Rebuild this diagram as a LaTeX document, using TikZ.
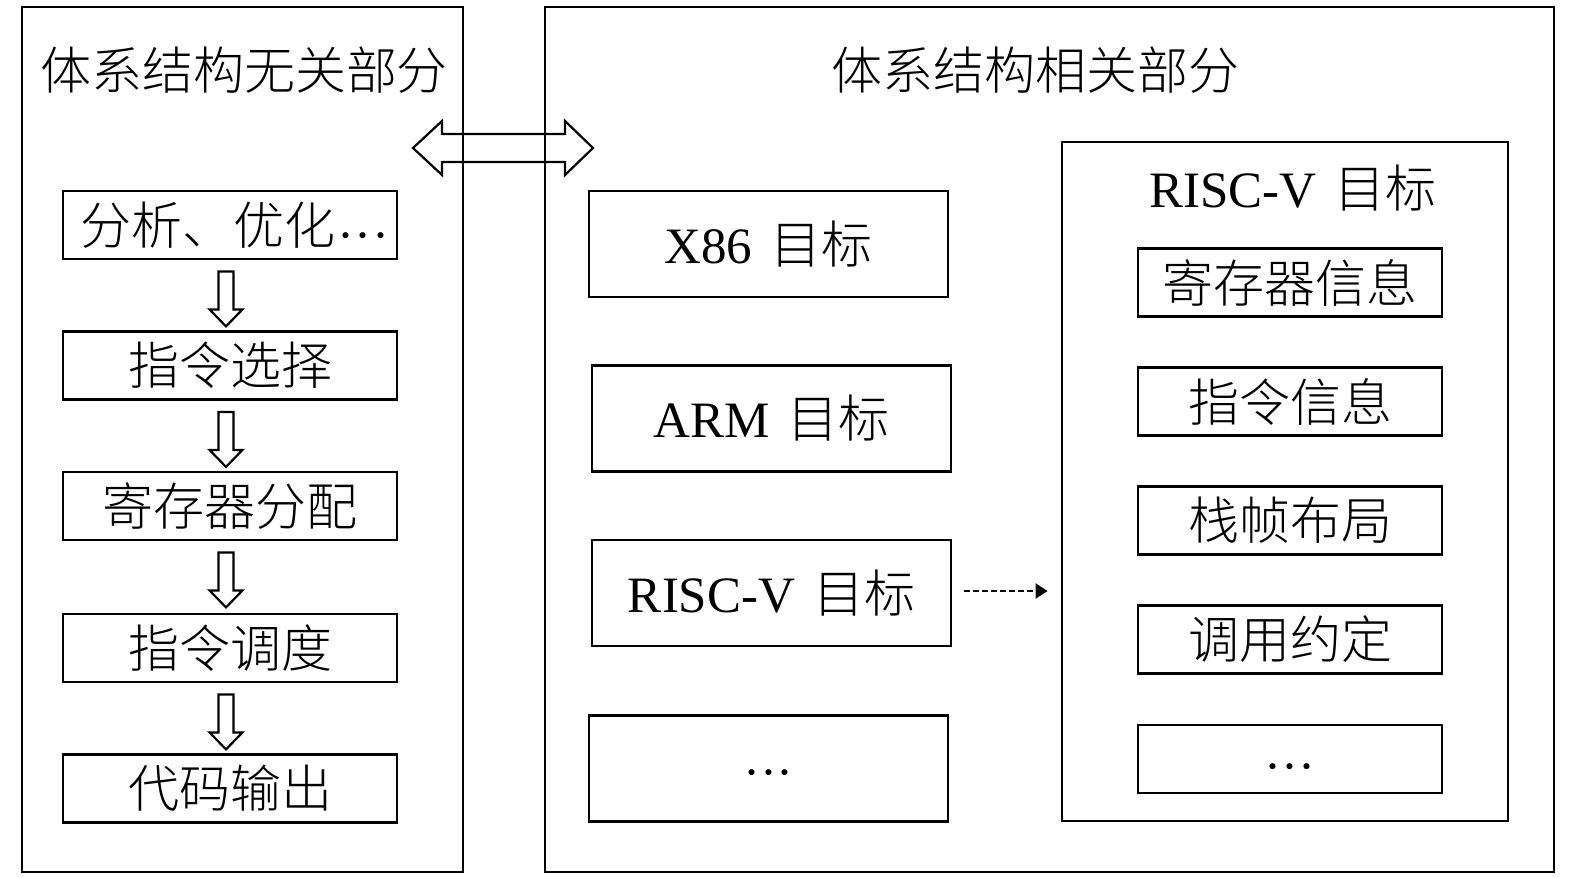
\documentclass[tikz,border=0pt]{standalone}
\usepackage{fontspec}
\setmainfont{Liberation Serif}
\newfontfamily\cjk{Noto Sans CJK SC Light}
\newcommand\zh[1]{{\cjk #1}}
\usetikzlibrary{arrows.meta,calc}
\begin{document}
\begin{tikzpicture}[x=0.5pt,y=-0.5pt,
  frame/.style={draw=black, line width=1.4pt, inner sep=0pt},
  txt/.style={inner sep=0pt, font=\fontsize{25.5}{30}\selectfont},
  lbox/.style={frame, font=\fontsize{25.5}{30}\selectfont, minimum width=167pt, minimum height=34pt},
  tbox/.style={frame, font=\fontsize{25.5}{30}\selectfont, minimum width=179.5pt, minimum height=53pt},
  ibox/.style={frame, font=\fontsize{25.5}{30}\selectfont, minimum width=152pt, minimum height=34pt},
  hollow/.style={draw=black, line width=1.1pt, line join=miter},
  dasharrow/.style={draw=black, line width=1pt, dash pattern=on 3pt off 1.5pt, -{Triangle[length=6pt,width=7.5pt]}},
]
\useasboundingbox (0,0) rectangle (1575,878);

% outer frames
\node[frame, minimum width=220.5pt, minimum height=432.5pt] (left) at (242.5,439.5) {};
\node[frame, minimum width=504.5pt, minimum height=432.5pt] (right) at (1049.5,439.5) {};
\node[txt] (lt) at (244,70) {\zh{体系结构无关部分}};
\node[txt] (rt) at (1035,70) {\zh{体系结构相关部分}};

% double arrow
\draw[hollow] (413,148) -- (442,121) -- (442,134) -- (565,134) -- (565,121) -- (593,148)
  -- (565,175) -- (565,162) -- (442,162) -- (442,175) -- cycle;

% left column
\node[lbox] (a1) at (230,225) {\hspace*{5pt}\zh{分析、优化}\hspace{1pt}\raisebox{-4pt}[0pt][0pt]{·\hspace{0.5pt}·\hspace{0.5pt}·}};
\node[lbox] (a2) at (230,365.5) {\zh{指令选择}};
\node[lbox] (a3) at (230,506) {\zh{寄存器分配}};
\node[lbox] (a4) at (230,648) {\zh{指令调度}};
\node[lbox] (a5) at (230,788.5) {\zh{代码输出}};

\foreach \p/\q in {a1/a2,a2/a3,a3/a4,a4/a5}{
  \draw[hollow] ($(\p.south)+(-4,11)$) ++(-7.5,0) -- ++(0,38) -- ++(-9,0) -- ++(16.5,17)
    -- ++(16.5,-17) -- ++(-9,0) -- ++(0,-38) -- cycle;
}

% targets
\node[tbox] (x86) at (768.5,244) {X86\hspace{0.35em}\zh{目标}};
\node[tbox] (arm) at (771.5,418.5) {ARM\hspace{0.35em}\zh{目标}};
\node[tbox] (rv) at (771.5,593) {RISC-V\hspace{0.35em}\zh{目标}};
\node[tbox] (etc) at (768.5,768.5) {\raisebox{-10.5pt}[0pt][0pt]{···}};

% RISC-V detail
\node[frame, minimum width=223pt, minimum height=339.5pt] (rvbig) at (1285,481.5) {};
\node[txt] (rvt) at (1293,188) {RISC-V\hspace{0.35em}\zh{目标}};
\node[ibox] (b1) at (1290,282.5) {\zh{寄存器信息}};
\node[ibox] (b2) at (1290,401.5) {\zh{指令信息}};
\node[ibox] (b3) at (1290,520.5) {\zh{栈帧布局}};
\node[ibox] (b4) at (1290,639.5) {\zh{调用约定}};
\node[ibox] (b5) at (1290,759) {\raisebox{-12pt}[0pt][0pt]{···}};

\draw[dasharrow] ($(rv.east)+(12,-2)$) -- ($(rv.east -| rvbig.west)+(-13,-2)$);
\end{tikzpicture}
\end{document}
